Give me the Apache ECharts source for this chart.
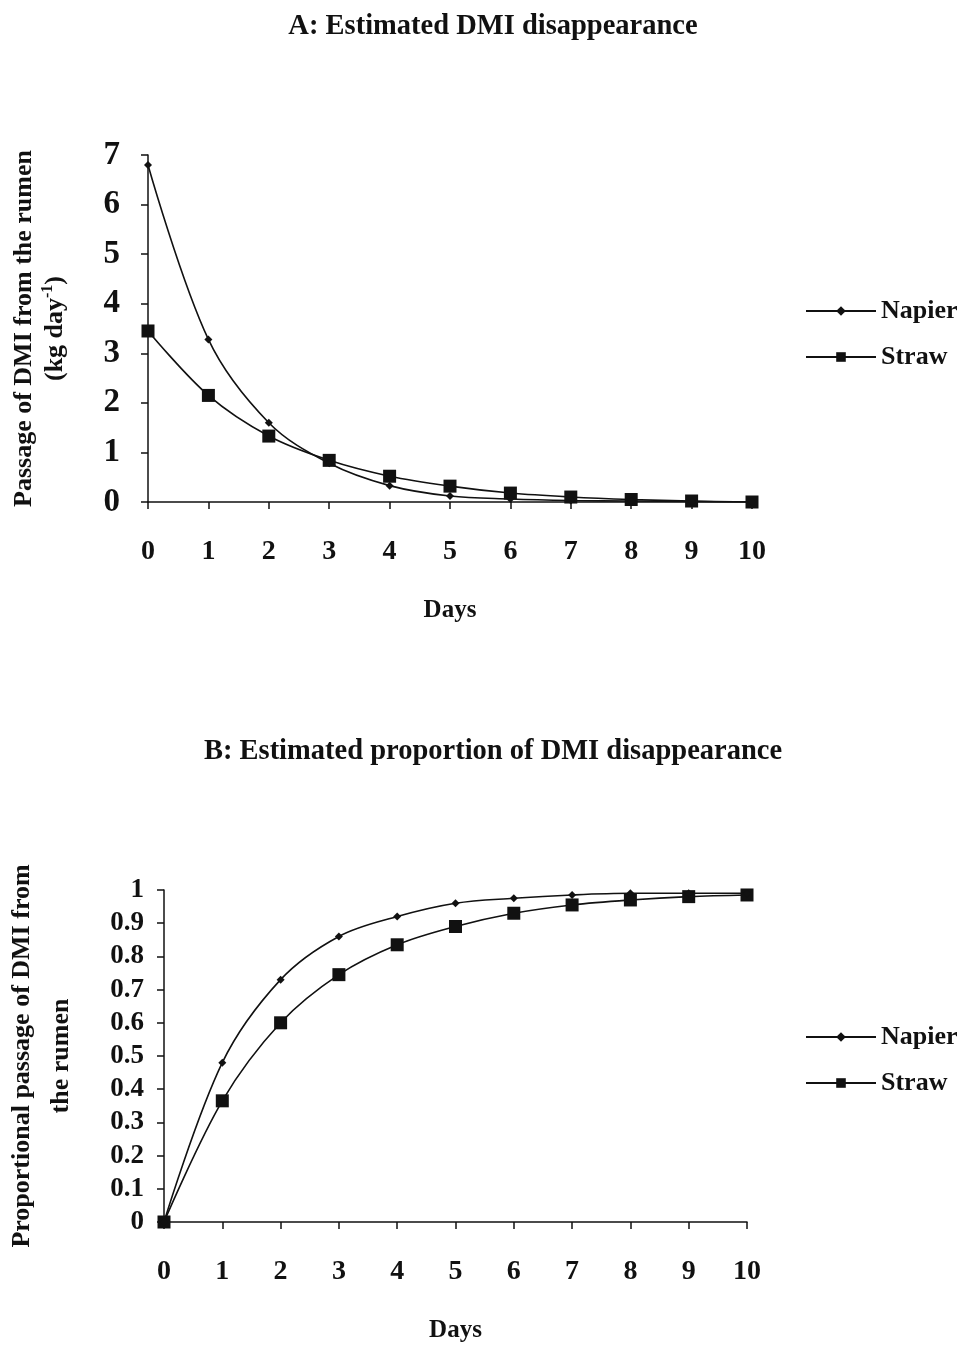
<!DOCTYPE html>
<html>
<head>
<meta charset="utf-8">
<script src="https://cdn.jsdelivr.net/npm/echarts@6/dist/echarts.min.js"></script>
<style>
  html, body { margin: 0; padding: 0; background: #fff; }
  #chart { width: 968px; height: 1347px; }
</style>
</head>
<body>
<div id="chart"></div>
<script>
// Days after feeding
const days = [0, 1, 2, 3, 4, 5, 6, 7, 8, 9, 10];

// A: passage of DMI from the rumen (kg day-1)
const napierPassage = [6.8, 3.28, 1.6, 0.78, 0.33, 0.12, 0.06, 0.03, 0.02, 0.01, 0.0];
const strawPassage  = [3.45, 2.15, 1.33, 0.84, 0.52, 0.32, 0.18, 0.1, 0.05, 0.02, 0.0];

// B: proportional passage of DMI from the rumen
const napierProportion = [0, 0.48, 0.73, 0.86, 0.92, 0.96, 0.975, 0.985, 0.99, 0.99, 0.99];
const strawProportion  = [0, 0.365, 0.6, 0.745, 0.835, 0.89, 0.93, 0.955, 0.97, 0.98, 0.985];

const seriesNames = ['Napier', 'Straw'];
const titleA = 'A: Estimated DMI disappearance';
const titleB = 'B: Estimated proportion of DMI disappearance';
const yNameA = 'Passage of DMI from the rumen\n(kg day{sup|-1})';
const yNameB = 'Proportional passage of DMI from\nthe rumen';
const xName = 'Days';

const SERIF = "'Liberation Serif', 'DejaVu Serif', serif";
const INK = '#111';

const pairs = (ys) => days.map((d, i) => [d, ys[i]]);

function xAxisFor(gridIndex) {
  return {
    type: 'value', gridIndex, min: 0, max: 10, interval: 1,
    name: xName, nameLocation: 'middle', nameGap: 96,
    nameTextStyle: { fontFamily: SERIF, fontWeight: 'bold', fontSize: 25, color: INK },
    axisLine: { show: true, lineStyle: { color: INK, width: 1.5 } },
    axisTick: { show: true, length: 7, lineStyle: { color: INK, width: 1.5 } },
    axisLabel: { margin: 36, fontFamily: SERIF, fontWeight: 'bold', fontSize: 28, color: INK },
    splitLine: { show: false }
  };
}

function lineSeries(name, data, xi, yi) {
  const isNapier = name === 'Napier';
  return {
    name, type: 'line', xAxisIndex: xi, yAxisIndex: yi,
    data, smooth: 0.35,
    symbol: isNapier ? 'diamond' : 'rect',
    symbolSize: isNapier ? 8 : 13,
    showAllSymbol: true,
    lineStyle: { color: INK, width: 1.6 },
    itemStyle: { color: INK },
    z: isNapier ? 3 : 2,
    animation: false
  };
}

const legendText = { fontFamily: SERIF, fontWeight: 'bold', fontSize: 26, color: INK };
const titleText = { fontFamily: SERIF, fontWeight: 'bold', fontSize: 28.5, color: INK };

const chart = echarts.init(document.getElementById('chart'), null, { renderer: 'canvas' });
chart.setOption({
  backgroundColor: '#fff',
  animation: false,
  title: [
    { text: titleA, left: 488, top: 7, textAlign: 'center', textStyle: titleText },
    { text: titleB, left: 488, top: 732, textAlign: 'center', textStyle: titleText }
  ],
  legend: [
    { data: seriesNames, orient: 'vertical', left: 800, top: 293, itemWidth: 70, itemHeight: 12,
      itemGap: 20, textStyle: legendText, selectedMode: false },
    { data: seriesNames, orient: 'vertical', left: 800, top: 1019, itemWidth: 70, itemHeight: 12,
      itemGap: 20, textStyle: legendText, selectedMode: false }
  ],
  grid: [
    { left: 148, right: 216, top: 155, bottom: 845, outerBoundsMode: 'none', containLabel: false },
    { left: 164, right: 221, top: 890, bottom: 125, outerBoundsMode: 'none', containLabel: false }
  ],
  xAxis: [xAxisFor(0), xAxisFor(1)],
  yAxis: [
    {
      type: 'value', gridIndex: 0, min: 0, max: 7, interval: 1,
      name: yNameA, nameLocation: 'middle', nameRotate: 90, nameGap: 77,
      nameTextStyle: { fontFamily: SERIF, fontWeight: 'bold', fontSize: 26, color: INK, lineHeight: 31,
        rich: { sup: { fontFamily: SERIF, fontWeight: 'bold', fontSize: 16, color: INK, verticalAlign: 'top', lineHeight: 31 } } },
      axisLine: { show: true, lineStyle: { color: INK, width: 1.5 } },
      axisTick: { show: true, length: 7, lineStyle: { color: INK, width: 1.5 } },
      axisLabel: { margin: 28, fontFamily: SERIF, fontWeight: 'bold', fontSize: 33, color: INK },
      splitLine: { show: false }
    },
    {
      type: 'value', gridIndex: 1, min: 0, max: 1, interval: 0.1,
      name: yNameB, nameLocation: 'middle', nameRotate: 90, nameGap: 83,
      nameTextStyle: { fontFamily: SERIF, fontWeight: 'bold', fontSize: 26, color: INK, lineHeight: 39 },
      axisLine: { show: true, lineStyle: { color: INK, width: 1.5 } },
      axisTick: { show: true, length: 7, lineStyle: { color: INK, width: 1.5 } },
      axisLabel: { margin: 20, fontFamily: SERIF, fontWeight: 'bold', fontSize: 27, color: INK,
        formatter: (v) => String(Math.round(v * 10) / 10) },
      splitLine: { show: false }
    }
  ],
  series: [
    lineSeries('Napier', pairs(napierPassage), 0, 0),
    lineSeries('Straw', pairs(strawPassage), 0, 0),
    lineSeries('Napier', pairs(napierProportion), 1, 1),
    lineSeries('Straw', pairs(strawProportion), 1, 1)
  ]
});
</script>
</body>
</html>
